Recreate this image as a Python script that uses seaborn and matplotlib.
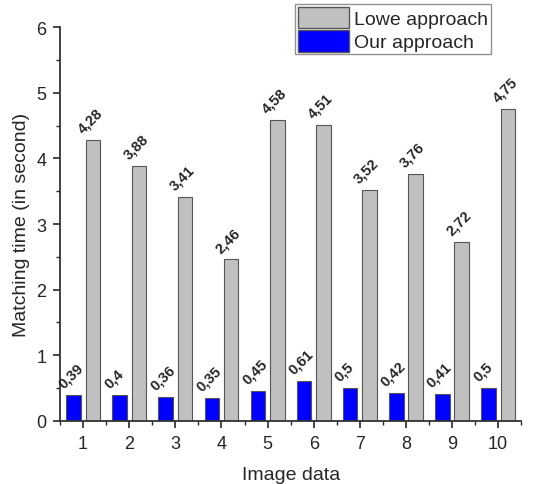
import pandas as pd
import matplotlib.pyplot as plt
import seaborn as sns
from matplotlib.patches import Patch
from matplotlib.ticker import MultipleLocator

# Matching time per image
images = ["1", "2", "3", "4", "5", "6", "7", "8", "9", "10"]
lowe_times = [4.28, 3.88, 3.41, 2.46, 4.58, 4.51, 3.52, 3.76, 2.72, 4.75]
our_times = [0.39, 0.40, 0.36, 0.35, 0.45, 0.61, 0.50, 0.42, 0.41, 0.50]

df = pd.DataFrame({
    "Image": images * 2,
    "Time": our_times + lowe_times,
    "Method": ["Our approach"] * len(images) + ["Lowe approach"] * len(images),
})

sns.set_style("ticks")
plt.rcParams["font.family"] = ["Liberation Sans", "DejaVu Sans"]

fig = plt.figure(figsize=(5.51, 4.85), dpi=100)
ax = fig.add_axes([0.109, 0.13, 0.837, 0.812])

colors = {"Our approach": "#0000ff", "Lowe approach": "#c0c0c0"}
sns.barplot(data=df, x="Image", y="Time", hue="Method",
            hue_order=["Our approach", "Lowe approach"], palette=colors,
            saturation=1, width=0.84, gap=0.25, edgecolor="#555555",
            linewidth=0.8, legend=False, ax=ax)

# Value labels with comma decimals
for container in ax.containers:
    for bar in container:
        h = bar.get_height()
        txt = f"{h:g}".replace(".", ",")
        ax.text(bar.get_x() - 0.02, h + 0.07, txt,
                rotation=45, ha="left", va="bottom", fontsize=10.5,
                fontweight="bold", rotation_mode="anchor")

ax.set_xlim(-0.5, 9.5)
ax.set_ylim(0, 6)
ax.yaxis.set_major_locator(MultipleLocator(1))
ax.yaxis.set_minor_locator(MultipleLocator(0.5))
ax.xaxis.set_minor_locator(MultipleLocator(0.5))
ax.tick_params(axis="both", which="major", length=5, width=1.2, labelsize=13,
               direction="out", pad=5)
ax.tick_params(axis="both", which="minor", length=3, width=1.0, direction="out")
sns.despine(ax=ax)
for s in ["left", "bottom"]:
    ax.spines[s].set_linewidth(1.3)
    ax.spines[s].set_color("#333333")

ax.set_xlabel("Image data", fontsize=14, labelpad=10)
ax.set_ylabel("Matching time (in second)", fontsize=14)

handles = [Patch(facecolor=colors["Lowe approach"], edgecolor="#555555", label="Lowe approach"),
           Patch(facecolor=colors["Our approach"], edgecolor="#555555", label="Our approach")]
ax.legend(handles=handles, loc="upper right", bbox_to_anchor=(0.935, 1.058),
          fontsize=14, frameon=True, fancybox=False, edgecolor="#777777",
          handlelength=2.6, handleheight=1.3, handletextpad=0.3,
          borderpad=0.15, labelspacing=0.1, borderaxespad=0)

fig.savefig("out.png", dpi=100)
